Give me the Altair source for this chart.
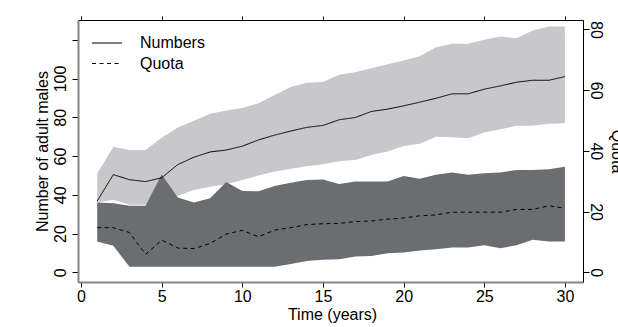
import altair as alt
import pandas as pd

FONT = "Liberation Sans"

# ---- data ----
years = list(range(1, 31))
numbers_mean = [36.8, 50.4, 47.8, 46.8, 48.8, 55.6, 59.4, 62.1, 63.1, 65.1,
                68.3, 70.8, 72.9, 74.8, 75.8, 78.7, 79.9, 83.0, 84.2, 85.9,
                87.8, 89.8, 92.1, 92.1, 94.5, 96.2, 98.1, 99.1, 99.1, 101.0]
numbers_low = [36.0, 37.4, 34.8, 34.8, 37.0, 39.5, 42.5, 44.2, 45.5, 47.6,
               50.0, 52.0, 53.5, 54.7, 55.7, 57.3, 58.0, 60.6, 62.3, 65.2,
               66.3, 70.0, 69.7, 69.2, 72.1, 73.8, 75.6, 75.6, 76.6, 76.9]
numbers_high = [51.0, 64.8, 63.1, 63.1, 69.5, 74.7, 78.2, 81.8, 83.5, 84.8,
                87.3, 91.5, 95.6, 97.8, 98.2, 101.9, 103.3, 105.3, 107.4, 109.3,
                111.5, 116.2, 117.9, 117.9, 120.0, 121.7, 120.8, 124.8, 126.9, 126.9]
quota_mean = [14.7, 14.7, 13.1, 5.9, 10.6, 8.0, 7.8, 9.5, 12.6, 13.8,
              11.7, 13.9, 14.7, 15.7, 16.0, 16.1, 16.7, 16.9, 17.5, 17.9,
              18.6, 18.9, 19.8, 19.8, 19.8, 19.8, 20.7, 20.7, 21.9, 21.1]
quota_low = [10.1, 8.7, 1.8, 1.8, 1.8, 1.8, 1.8, 1.8, 1.8, 1.8,
             1.8, 1.8, 2.7, 3.7, 4.1, 4.3, 5.2, 5.4, 6.3, 6.5,
             7.2, 7.6, 8.2, 8.2, 8.9, 7.9, 8.9, 10.7, 10.1, 10.1]
quota_high = [23.0, 22.7, 21.9, 21.9, 32.2, 24.6, 23.0, 24.4, 29.7, 26.8,
              26.7, 28.4, 29.5, 30.4, 30.6, 29.1, 29.9, 29.9, 29.9, 31.7,
              30.8, 32.1, 32.9, 32.1, 32.6, 32.9, 33.7, 33.7, 33.9, 34.8]

x_ticks = [0, 5, 10, 15, 20, 25, 30]
yl_ticks = [0, 20, 40, 60, 80, 100, 120]
yr_ticks = [0, 20, 40, 60, 80]
series_names = ["Numbers", "Quota"]

x_dom = [-0.19, 31.12]
yl_dom = [-5.0, 130.2]
yr_dom = [-3.2, 83.1]

df = pd.DataFrame({
    "year": years,
    "numbers_mean": numbers_mean,
    "numbers_low": numbers_low,
    "numbers_high": numbers_high,
    "quota_mean": quota_mean,
    "quota_low": quota_low,
    "quota_high": quota_high,
})

xs = alt.Scale(domain=x_dom, nice=False, zero=False)
yls = alt.Scale(domain=yl_dom, nice=False, zero=False)
yrs = alt.Scale(domain=yr_dom, nice=False, zero=False)

base = alt.Chart(df)

bottom_axis = alt.Axis(
    orient="bottom", values=x_ticks, format="d", grid=False,
    domainColor="#858585", domainWidth=2, tickColor="black", tickSize=5, tickWidth=1,
    labelFont=FONT, labelFontSize=16, labelColor="black", labelPadding=1,
    labelFlush=False, labelOverlap=False,
    title="Time (years)", titleFont=FONT, titleFontSize=16, titleFontWeight="normal",
    titleColor="black", titleX=254, titleY=37.5, titleAlign="center",
    titleBaseline="alphabetic",
)
left_axis = alt.Axis(
    orient="left", values=yl_ticks, labelExpr="datum.value == 120 ? '' : datum.label",
    grid=False, domainColor="#858585", domainWidth=2, tickColor="black", tickSize=6,
    tickWidth=1, labelAngle=270, labelAlign="center", labelBaseline="alphabetic",
    labelPadding=7, labelFont=FONT, labelFontSize=16, labelColor="black",
    labelFlush=False, labelOverlap=False,
    title="Number of adult males", titleFont=FONT, titleFontSize=16,
    titleFontWeight="normal", titleColor="black", titleAngle=270,
    titleX=-31, titleY=131, titleAlign="center", titleBaseline="alphabetic",
)
top_axis = alt.Axis(
    orient="top", values=x_ticks, labels=False, grid=False, title=None,
    domainColor="black", domainWidth=1, tickColor="black", tickSize=4, tickWidth=1,
)
right_axis = alt.Axis(
    orient="right", values=yr_ticks, grid=False, domainColor="black", domainWidth=1,
    tickColor="black", tickSize=6, tickWidth=1, labelAngle=90, labelAlign="center",
    labelBaseline="alphabetic", labelPadding=1, labelFont=FONT, labelFontSize=16,
    labelColor="black", labelFlush=False, labelOverlap=False,
    title="Quota", titleFont=FONT, titleFontSize=16, titleFontWeight="normal",
    titleColor="black", titleAngle=90, titleX=28, titleY=131, titleAlign="center",
    titleBaseline="alphabetic",
)

dash_scale = alt.Scale(domain=series_names, range=[[1, 0], [4, 3.5]])
legend = alt.Legend(
    orient="none", legendX=21, legendY=15, title=None, padding=0,
    symbolType="M-3,0H3", symbolSize=100, symbolStrokeWidth=1,
    symbolStrokeColor="black", labelFont=FONT, labelFontSize=16,
    labelColor="black", labelOffset=25, rowPadding=4.5,
)

light = base.mark_area(color="#c8c8ca", opacity=1).encode(
    x=alt.X("year:Q", scale=xs, axis=bottom_axis),
    y=alt.Y("numbers_low:Q", scale=yls, axis=left_axis),
    y2="numbers_high:Q",
)
dark = base.mark_area(color="#6c6d71", opacity=1).encode(
    x=alt.X("year:Q", scale=xs, axis=top_axis),
    y=alt.Y("quota_low:Q", scale=yrs, axis=right_axis),
    y2="quota_high:Q",
)
num_line = base.transform_calculate(series="'Numbers'").mark_line(
    color="black", strokeWidth=1).encode(
    x=alt.X("year:Q", scale=xs, axis=None),
    y=alt.Y("numbers_mean:Q", scale=yls, axis=None),
    strokeDash=alt.StrokeDash("series:N", scale=dash_scale, legend=legend),
)
quota_line = base.transform_calculate(series="'Quota'").mark_line(
    color="black", strokeWidth=1).encode(
    x=alt.X("year:Q", scale=xs, axis=None),
    y=alt.Y("quota_mean:Q", scale=yrs, axis=None),
    strokeDash=alt.StrokeDash("series:N", scale=dash_scale, legend=legend),
)

chart = alt.layer(light, dark, num_line, quota_line).resolve_scale(
    y="independent"
).resolve_axis(x="independent").properties(
    width=505, height=262,
    autosize=alt.AutoSizeParams(type="none"),
    padding={"left": 78, "top": 20, "right": 35, "bottom": 45},
    background="white",
).configure_view(strokeWidth=0).configure(font=FONT)

chart.save("out.html", embed_options={"renderer": "svg", "actions": False})
